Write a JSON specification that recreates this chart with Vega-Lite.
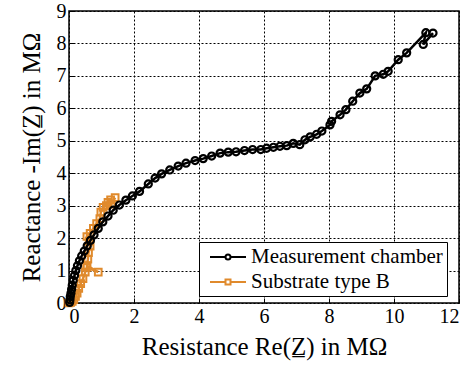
{
  "$schema": "https://vega.github.io/schema/vega-lite/v6.json",
  "width": 390,
  "height": 292,
  "autosize": {"type": "none"},
  "padding": {"left": 69, "top": 11, "right": 14, "bottom": 69},
  "background": "white",
  "config": {
    "font": "Liberation Serif",
    "view": {"stroke": "black", "strokeWidth": 1.5},
    "axis": {
      "labelFont": "Liberation Serif",
      "titleFont": "Liberation Serif",
      "labelFontSize": 20,
      "titleFontSize": 25,
      "labelColor": "black",
      "titleColor": "black",
      "titleFontWeight": "normal",
      "grid": true,
      "gridColor": "black",
      "gridDash": [2, 2],
      "gridWidth": 1,
      "gridOpacity": 1,
      "domain": false,
      "ticks": true,
      "tickColor": "black",
      "tickSize": -5,
      "tickWidth": 1
    }
  },
  "data": {
    "values": [
      {"series": "Substrate type B", "re": 0.0, "im": 0.0},
      {"series": "Substrate type B", "re": 0.05, "im": 0.02},
      {"series": "Substrate type B", "re": 0.1, "im": 0.05},
      {"series": "Substrate type B", "re": 0.15, "im": 0.1},
      {"series": "Substrate type B", "re": 0.2, "im": 0.2},
      {"series": "Substrate type B", "re": 0.25, "im": 0.3},
      {"series": "Substrate type B", "re": 0.3, "im": 0.45},
      {"series": "Substrate type B", "re": 0.36, "im": 0.6},
      {"series": "Substrate type B", "re": 0.43, "im": 0.75},
      {"series": "Substrate type B", "re": 0.5, "im": 0.95},
      {"series": "Substrate type B", "re": 0.55, "im": 1.1},
      {"series": "Substrate type B", "re": 0.9, "im": 0.95},
      {"series": "Substrate type B", "re": 0.55, "im": 1.15},
      {"series": "Substrate type B", "re": 0.58, "im": 1.35},
      {"series": "Substrate type B", "re": 0.6, "im": 1.55},
      {"series": "Substrate type B", "re": 0.65, "im": 1.75},
      {"series": "Substrate type B", "re": 0.62, "im": 1.9},
      {"series": "Substrate type B", "re": 0.55, "im": 2.05},
      {"series": "Substrate type B", "re": 0.65, "im": 2.15},
      {"series": "Substrate type B", "re": 0.75, "im": 2.3},
      {"series": "Substrate type B", "re": 0.85, "im": 2.45},
      {"series": "Substrate type B", "re": 0.95, "im": 2.6},
      {"series": "Substrate type B", "re": 0.98, "im": 2.8},
      {"series": "Substrate type B", "re": 1.05, "im": 2.95},
      {"series": "Substrate type B", "re": 1.15, "im": 3.0},
      {"series": "Substrate type B", "re": 1.2, "im": 3.1},
      {"series": "Substrate type B", "re": 1.28, "im": 3.18},
      {"series": "Substrate type B", "re": 1.3, "im": 3.05},
      {"series": "Substrate type B", "re": 1.42, "im": 3.25},
      {"series": "Measurement chamber", "re": 0.02, "im": 0.02},
      {"series": "Measurement chamber", "re": 0.03, "im": 0.1},
      {"series": "Measurement chamber", "re": 0.04, "im": 0.2},
      {"series": "Measurement chamber", "re": 0.06, "im": 0.3},
      {"series": "Measurement chamber", "re": 0.08, "im": 0.42},
      {"series": "Measurement chamber", "re": 0.1, "im": 0.55},
      {"series": "Measurement chamber", "re": 0.13, "im": 0.7},
      {"series": "Measurement chamber", "re": 0.17, "im": 0.85},
      {"series": "Measurement chamber", "re": 0.21, "im": 1.0},
      {"series": "Measurement chamber", "re": 0.26, "im": 1.15},
      {"series": "Measurement chamber", "re": 0.32, "im": 1.3},
      {"series": "Measurement chamber", "re": 0.39, "im": 1.45},
      {"series": "Measurement chamber", "re": 0.47, "im": 1.6},
      {"series": "Measurement chamber", "re": 0.56, "im": 1.76},
      {"series": "Measurement chamber", "re": 0.66, "im": 1.93},
      {"series": "Measurement chamber", "re": 0.77, "im": 2.1},
      {"series": "Measurement chamber", "re": 0.9, "im": 2.3},
      {"series": "Measurement chamber", "re": 1.04, "im": 2.5},
      {"series": "Measurement chamber", "re": 1.2, "im": 2.68},
      {"series": "Measurement chamber", "re": 1.36, "im": 2.86},
      {"series": "Measurement chamber", "re": 1.55, "im": 3.02},
      {"series": "Measurement chamber", "re": 1.75, "im": 3.17},
      {"series": "Measurement chamber", "re": 1.95, "im": 3.3},
      {"series": "Measurement chamber", "re": 2.17, "im": 3.44},
      {"series": "Measurement chamber", "re": 2.44, "im": 3.67},
      {"series": "Measurement chamber", "re": 2.65, "im": 3.85},
      {"series": "Measurement chamber", "re": 2.85, "im": 3.98},
      {"series": "Measurement chamber", "re": 3.1, "im": 4.1},
      {"series": "Measurement chamber", "re": 3.36, "im": 4.22},
      {"series": "Measurement chamber", "re": 3.6, "im": 4.31},
      {"series": "Measurement chamber", "re": 3.88, "im": 4.39},
      {"series": "Measurement chamber", "re": 4.13, "im": 4.45},
      {"series": "Measurement chamber", "re": 4.39, "im": 4.53},
      {"series": "Measurement chamber", "re": 4.65, "im": 4.62},
      {"series": "Measurement chamber", "re": 4.9, "im": 4.65},
      {"series": "Measurement chamber", "re": 5.14, "im": 4.66},
      {"series": "Measurement chamber", "re": 5.4, "im": 4.7},
      {"series": "Measurement chamber", "re": 5.65, "im": 4.73},
      {"series": "Measurement chamber", "re": 5.9, "im": 4.73},
      {"series": "Measurement chamber", "re": 6.08, "im": 4.77},
      {"series": "Measurement chamber", "re": 6.29, "im": 4.8},
      {"series": "Measurement chamber", "re": 6.49, "im": 4.83},
      {"series": "Measurement chamber", "re": 6.7, "im": 4.85},
      {"series": "Measurement chamber", "re": 6.9, "im": 4.92},
      {"series": "Measurement chamber", "re": 7.1, "im": 4.88},
      {"series": "Measurement chamber", "re": 7.26, "im": 5.03},
      {"series": "Measurement chamber", "re": 7.42, "im": 5.12},
      {"series": "Measurement chamber", "re": 7.62, "im": 5.2},
      {"series": "Measurement chamber", "re": 7.78, "im": 5.3},
      {"series": "Measurement chamber", "re": 8.03, "im": 5.49},
      {"series": "Measurement chamber", "re": 8.08, "im": 5.6},
      {"series": "Measurement chamber", "re": 8.34, "im": 5.8},
      {"series": "Measurement chamber", "re": 8.52, "im": 5.96},
      {"series": "Measurement chamber", "re": 8.73, "im": 6.22},
      {"series": "Measurement chamber", "re": 8.95, "im": 6.47},
      {"series": "Measurement chamber", "re": 9.16, "im": 6.6},
      {"series": "Measurement chamber", "re": 9.42, "im": 7.0},
      {"series": "Measurement chamber", "re": 9.67, "im": 7.05},
      {"series": "Measurement chamber", "re": 9.82, "im": 7.14},
      {"series": "Measurement chamber", "re": 10.13, "im": 7.5},
      {"series": "Measurement chamber", "re": 10.39, "im": 7.71},
      {"series": "Measurement chamber", "re": 10.98, "im": 8.33},
      {"series": "Measurement chamber", "re": 10.9, "im": 7.97},
      {"series": "Measurement chamber", "re": 11.2, "im": 8.32}
    ]
  },
  "encoding": {
    "x": {
      "field": "re", "type": "quantitative",
      "scale": {"domain": [0, 12], "nice": false},
      "axis": {"values": [0, 2, 4, 6, 8, 10, 12], "title": "Resistance Re(Z\u0332) in MΩ", "labelPadding": 8, "titlePadding": 8}
    },
    "y": {
      "field": "im", "type": "quantitative",
      "scale": {"domain": [0, 9], "nice": false},
      "axis": {"values": [0, 1, 2, 3, 4, 5, 6, 7, 8, 9], "title": "Reactance -Im(Z\u0332) in MΩ", "labelPadding": 8, "titlePadding": 12}
    },
    "color": {
      "field": "series", "type": "nominal",
      "scale": {"domain": ["Measurement chamber", "Substrate type B"], "range": ["black", "#E08A2C"]},
      "legend": {
        "title": null,
        "orient": "none",
        "legendX": 130,
        "legendY": 231,
        "strokeColor": "black",
        "fillColor": "white",
        "padding": 4,
        "labelFont": "Liberation Serif",
        "labelFontSize": 21,
        "labelColor": "black",
        "labelLimit": 400,
        "labelOffset": 12,
        "symbolOffset": 14,
        "rowPadding": 4,
        "symbolSize": 400,
        "symbolStrokeWidth": 2,
        "symbolFillColor": "transparent",
        "values": ["Measurement chamber", "Substrate type B"],
        "encode": {
          "symbols": {
            "update": {
              "shape": {"signal": "datum.label === 'Measurement chamber' ? 'M-1.8,0H-0.25M0.25,0H1.8M-0.25,0A0.25,0.25 0 1,1 0.25,0A0.25,0.25 0 1,1 -0.25,0Z' : 'M-1.8,0H-0.25M0.25,0H1.8M-0.25,-0.25H0.25V0.25H-0.25Z'"},
              "size": {"value": 400},
              "strokeWidth": {"value": 2},
              "fill": {"value": "transparent"},
              "opacity": {"value": 1}
            }
          }
        }
      }
    },
    "order": {"value": null}
  },
  "layer": [
    {
      "transform": [{"filter": "datum.series === 'Substrate type B'"}],
      "mark": {"type": "line", "strokeWidth": 2.5}
    },
    {
      "transform": [{"filter": "datum.series === 'Substrate type B'"}],
      "mark": {"type": "point", "shape": "square", "size": 45, "strokeWidth": 2, "filled": false, "opacity": 1}
    },
    {
      "transform": [{"filter": "datum.series === 'Measurement chamber'"}],
      "mark": {"type": "line", "strokeWidth": 2.5}
    },
    {
      "transform": [{"filter": "datum.series === 'Measurement chamber'"}],
      "mark": {"type": "point", "size": 50, "strokeWidth": 2.2, "filled": false, "opacity": 1}
    }
  ]
}
